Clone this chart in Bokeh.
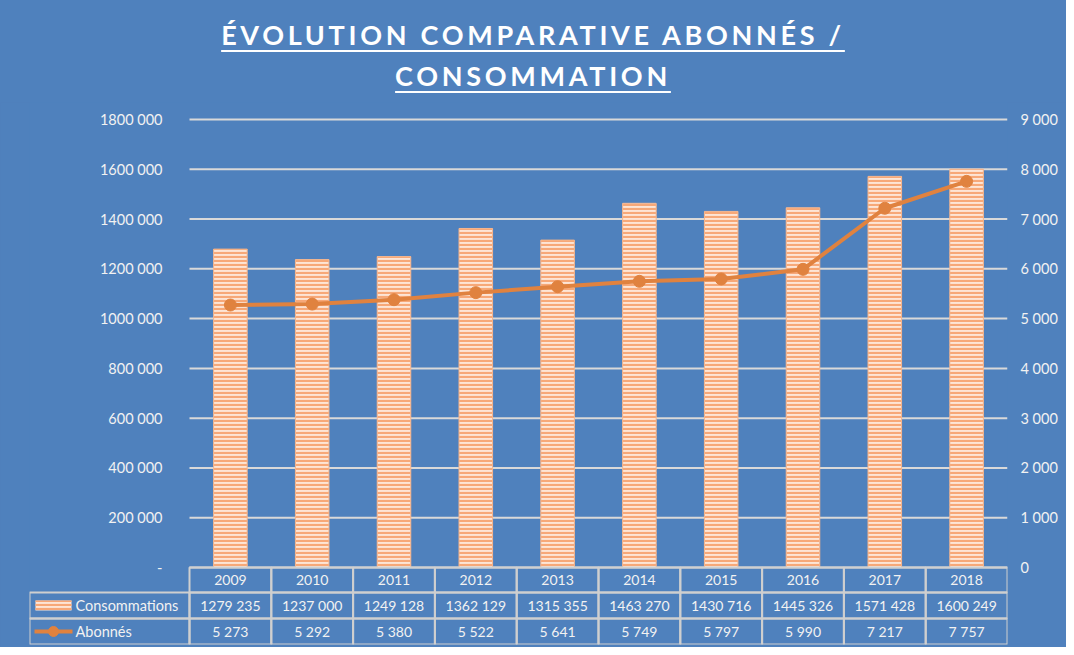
from bokeh.plotting import figure
from bokeh.models import Range1d, LinearAxis, FixedTicker, Div
from bokeh.layouts import column
from bokeh.embed import file_html
from bokeh.resources import INLINE
from bokeh.core.properties import value

# ---------------- data ----------------
years = ["2009", "2010", "2011", "2012", "2013", "2014", "2015", "2016", "2017", "2018"]
consommations = [1279235, 1237000, 1249128, 1362129, 1315355, 1463270, 1430716, 1445326, 1571428, 1600249]
abonnes = [5273, 5292, 5380, 5522, 5641, 5749, 5797, 5990, 7217, 7757]
series_names = ["Consommations", "Abonnés"]
left_ticks = [0, 200000, 400000, 600000, 800000, 1000000, 1200000, 1400000, 1600000, 1800000]
left_tick_labels = ["-", "200 000", "400 000", "600 000", "800 000", "1000 000",
                    "1200 000", "1400 000", "1600 000", "1800 000"]
right_ticks = [0, 1000, 2000, 3000, 4000, 5000, 6000, 7000, 8000, 9000]
right_tick_labels = ["0", "1 000", "2 000", "3 000", "4 000", "5 000", "6 000", "7 000", "8 000", "9 000"]
title_lines = ["ÉVOLUTION COMPARATIVE ABONNÉS /", "CONSOMMATION"]

# ---------------- style ----------------
BLUE = "#4F81BD"
ORANGE = "#E0823F"
GRID = "#D9D9D9"
TABLE_LINE = "#CFCFCF"
TXT = "#F2F2F2"
BAR_FILL = "#FDE5D6"
BAR_HATCH = "#F7A878"
FONT = "Lato"
W = 1066
COL_W = 81.8           # pixel width of one year column
LABEL_W = 160          # pixel width of the table's label column
PLOT_H = 448           # pixels from 0 to the top tick
TOP_PAD = 17           # pixels of frame above the top tick
ROW_PX = [25, 26, 26]  # table rows: years, consommations, abonnés


def fmt(v):
    s = str(v)
    return s if len(s) <= 3 else s[:-3] + " " + s[-3:]


N = len(years)
xs = [i + 0.5 for i in range(N)]
lefts = [i for i in range(N)]
rights = [i + 1 for i in range(N)]

# ---------------- title ----------------
title_html = (
    '<div style="width:%dpx;height:102px;box-sizing:border-box;padding-top:14px;'
    'text-align:center;font-family:Lato;font-weight:bold;font-size:27px;line-height:41px;'
    'letter-spacing:3.7px;color:#FFFFFF;background-color:%s;">'
    '<span style="text-decoration:underline;text-decoration-thickness:2px;'
    'text-underline-offset:5px;">%s</span></div>' % (W, BLUE, "<br>".join(title_lines))
)
title = Div(text=title_html, width=W, height=102, margin=0,
            styles={"background-color": BLUE})

# ---------------- chart + table ----------------
lmax = left_ticks[-1]
rmax = right_ticks[-1]
lpx = lmax / PLOT_H
rpx = rmax / PLOT_H
table_px = sum(ROW_PX)
x0 = -LABEL_W / COL_W

p = figure(width=W, height=545, x_range=Range1d(x0, N),
           y_range=Range1d(-table_px * lpx, lmax + TOP_PAD * lpx),
           output_backend="svg", toolbar_location=None, x_axis_location=None,
           min_border_left=29, min_border_right=59, min_border_top=0, min_border_bottom=3)
p.extra_y_ranges = {"abon": Range1d(-table_px * rpx, rmax + TOP_PAD * rpx)}
p.background_fill_color = BLUE
p.border_fill_color = BLUE
p.outline_line_color = None
p.xgrid.visible = False
p.ygrid.visible = False

# horizontal gridlines over the year columns only
p.segment(x0=[0] * len(left_ticks), x1=[N] * len(left_ticks), y0=left_ticks, y1=left_ticks,
          line_color=GRID, line_width=2, level="underlay")

ya = p.yaxis[0]
ya.ticker = FixedTicker(ticks=left_ticks)
ya.major_label_overrides = {t: l for t, l in zip(left_ticks, left_tick_labels)}
ya.fixed_location = 0
ra = LinearAxis(y_range_name="abon", ticker=FixedTicker(ticks=right_ticks),
                major_label_overrides={t: l for t, l in zip(right_ticks, right_tick_labels)})
p.add_layout(ra, "right")
for ax, so in ((ya, 27), (ra, 13)):
    ax.axis_line_color = None
    ax.major_tick_line_color = None
    ax.minor_tick_line_color = None
    ax.major_tick_out = 0
    ax.major_tick_in = 0
    ax.major_label_standoff = so
    ax.major_label_text_color = TXT
    ax.major_label_text_font = FONT
    ax.major_label_text_font_size = "14.5px"

p.vbar(x=xs, top=consommations, bottom=0, width=0.41,
       fill_color=BAR_FILL, hatch_pattern="horizontal_line", hatch_color=BAR_HATCH,
       hatch_scale=4, hatch_weight=2.2, line_color="#F6B58C", line_width=1)
p.line(xs, abonnes, y_range_name="abon", line_width=4, line_color=ORANGE)
p.scatter(xs, abonnes, y_range_name="abon", size=12, fill_color=ORANGE, line_color=ORANGE)

# data table: year columns (three rows) and the label column (two rows)
row_tops = [0, -ROW_PX[0], -(ROW_PX[0] + ROW_PX[1])]
row_bots = [-ROW_PX[0], -(ROW_PX[0] + ROW_PX[1]), -table_px]
for t, b in zip(row_tops, row_bots):
    p.quad(left=lefts, right=rights, top=t * lpx, bottom=b * lpx,
           fill_color=None, line_color=TABLE_LINE, line_width=2)
p.quad(left=[x0, x0], right=[0, 0], top=[row_tops[1] * lpx, row_tops[2] * lpx],
       bottom=[row_bots[1] * lpx, row_bots[2] * lpx],
       fill_color=None, line_color=TABLE_LINE, line_width=2)

row_texts = [years, [fmt(v) for v in consommations], [fmt(v) for v in abonnes]]
for texts, t, b in zip(row_texts, row_tops, row_bots):
    p.text(x=xs, y=[0] * N, text=texts, y_offset=-(t + b) / 2, text_align="center",
           text_baseline="middle", text_font=value(FONT), text_font_size="14px", text_color=TXT)

# legend keys and series names in the label column
yc1 = (row_tops[1] + row_bots[1]) / 2 * lpx
yc2 = (row_tops[2] + row_bots[2]) / 2 * lpx
p.rect(x=[x0 + 24 / COL_W], y=[yc1], width=36 / COL_W, height=10, height_units="screen",
       fill_color=BAR_FILL, hatch_pattern="horizontal_line", hatch_color=BAR_HATCH,
       hatch_scale=4, hatch_weight=2.2, line_color=None)
p.line([x0 + 5 / COL_W, x0 + 43 / COL_W], [yc2, yc2], line_width=4, line_color=ORANGE)
p.scatter([x0 + 24 / COL_W], [yc2], size=10, fill_color=ORANGE, line_color=ORANGE)
p.text(x=[x0 + 46 / COL_W] * 2, y=[yc1, yc2], text=series_names, text_align="left",
       text_baseline="middle", text_font=value(FONT), text_font_size="14.5px", text_color=TXT)

layout = column(title, p, spacing=0, styles={"background-color": BLUE})
open("out.html", "w").write(file_html(layout, INLINE))
